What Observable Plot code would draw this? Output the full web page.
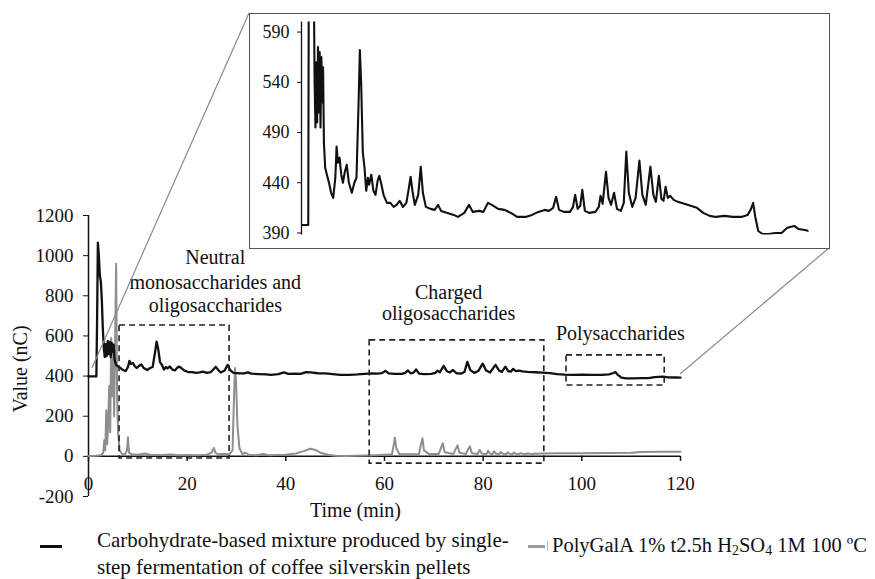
<!DOCTYPE html>
<html><head><meta charset="utf-8">
<script src="https://cdn.jsdelivr.net/npm/d3@7"></script>
<script src="https://cdn.jsdelivr.net/npm/@observablehq/plot@0.6"></script>
<style>
html,body{margin:0;padding:0;background:#fff;}
#wrap{position:relative;width:875px;height:579px;font-family:"Liberation Serif","Times New Roman",serif;color:#111;overflow:hidden;}
#main{position:absolute;left:0;top:0;}
#conn{position:absolute;left:0;top:0;pointer-events:none;}
#inset{position:absolute;left:249px;top:13px;width:581px;height:236px;border:1.5px solid #555;box-sizing:border-box;background:#fff;}
.lg{position:absolute;font-size:21px;line-height:27px;white-space:nowrap;}
.sw{position:absolute;height:3px;}
sub{font-size:14px;vertical-align:-3px;line-height:0;}
</style></head><body>
<div id="wrap">
  <div id="main"></div>
  <svg id="conn" width="875" height="579"></svg>
  <div id="inset"></div>
  <div class="sw" style="left:40px;top:545px;width:22px;background:#111;"></div>
  <div class="lg" style="left:97px;top:527px;">Carbohydrate-based mixture produced by single-<br>step fermentation of coffee silverskin pellets</div>
  <div class="sw" style="left:528px;top:545px;width:17px;background:#9a9a9a;"></div>
  <div style="position:absolute;left:547px;top:541px;width:1px;height:10px;background:#bbb;"></div>
  <div class="lg" style="left:552px;top:532px;font-size:20.5px;">PolyGalA 1% t2.5h H<sub>2</sub>SO<sub>4</sub> 1M 100 ºC</div>
</div>
<script>
// ---------- data ----------
const seriesNames = ["Carbohydrate-based mixture produced by single-step fermentation of coffee silverskin pellets", "PolyGalA 1% t2.5h H2SO4 1M 100 ºC"];

const blackTime = [0,0.8,1.6,1.75,1.9,2.1,2.3,2.5,2.7,2.9,3.1,3.3,3.5,3.7,3.9,4.1,4.3,4.5,4.7,4.9,5.1,5.3,5.6,6.0,6.5,7.0,7.5,8.0,8.3,8.6,9.0,9.4,9.8,10.2,10.7,11.2,11.9,12.5,13.0,13.5,13.8,14.1,14.5,14.9,15.3,15.7,16.0,16.5,17.0,17.5,18.0,18.4,18.8,19.4,20.2,21.0,21.8,22.5,23.2,24.0,24.8,25.4,25.8,26.3,26.8,27.6,28.2,28.7,29.4,30.5,31.5,32.3,33.0,34.5,36.0,37.0,38.5,39.6,40.5,42.0,43.0,44.1,45.0,46.5,48.0,49.5,51.0,53.0,54.5,56.0,57.5,58.5,59.5,60.2,60.9,62.0,63.5,64.2,64.7,65.3,65.9,66.4,67.0,68.0,69.5,70.3,70.7,71.2,72.0,72.6,73.2,73.9,74.6,75.5,76.2,76.8,77.4,78.2,79.0,79.9,80.6,81.4,82.5,83.2,83.8,84.5,85.1,85.6,86.1,86.6,87.2,88.0,89.0,90.5,92.0,93.5,95.0,96.5,98.0,100.0,102.0,104.0,105.5,106.3,106.8,107.3,108.0,109.0,110.5,112.0,113.5,114.8,115.5,116.5,117.5,119.0,120.0];
const blackValue = [398,398,398,700,1065,1000,900,870,780,640,540,495,560,500,575,510,570,495,565,520,555,480,455,448,440,430,425,445,476,460,465,448,440,450,458,440,430,440,445,520,572,540,470,455,432,445,438,448,432,428,442,447,440,428,420,420,416,418,422,416,420,435,446,430,418,428,456,430,416,414,413,418,412,410,408,406,410,418,411,412,411,420,418,414,413,410,406,406,408,411,413,412,415,426,413,411,411,416,428,414,417,433,412,410,411,416,427,419,451,425,418,430,414,412,420,471,430,416,425,462,428,418,456,428,421,447,424,422,436,425,427,423,421,419,417,415,410,407,406,407,406,406,408,414,420,406,392,389,389,390,390,395,396,397,394,393,392];

const grayTime = [0,1.5,2.5,3.0,3.2,3.4,3.6,3.8,4.0,4.2,4.4,4.6,4.8,5.0,5.2,5.4,5.6,5.8,6.0,6.3,6.8,7.4,7.8,8.0,8.2,8.8,10,11.5,12.5,15,17,18,20,22,24,25.0,25.4,25.8,26.5,27.5,28.5,29.2,29.5,29.7,29.9,30.2,30.6,31.2,31.8,32.5,34,35.5,36.5,38,40,42,43.5,45.0,46.0,47.0,48.5,50,52,54,56,58,60,61.5,61.9,62.1,62.4,63,65,67.0,67.4,67.7,68.0,69,71.0,71.5,71.8,72.2,74.0,74.5,74.8,75.2,76.5,77.0,77.3,77.7,78.9,79.3,79.7,80.7,81.0,81.4,81.9,82.2,82.6,83.3,83.6,84.0,84.7,85.0,85.4,85.9,86.2,86.6,87.3,87.6,88.0,88.7,89.0,89.4,90.0,90.3,91,92,95,100,105,110,112,116,120];
const grayValue = [2,3,5,20,80,30,230,60,180,350,120,590,300,560,200,575,960,300,120,30,12,10,30,95,20,10,8,14,8,7,9,6,7,6,8,20,42,15,10,12,10,30,300,440,380,150,40,12,18,8,6,12,6,7,8,14,25,38,32,18,8,3,2,3,4,6,8,10,60,93,40,12,10,12,60,90,30,12,12,45,65,20,12,40,55,18,12,38,50,16,12,32,14,12,28,13,12,25,13,12,22,13,12,20,13,12,18,13,12,16,13,12,15,13,12,14,13,14,15,16,17,18,22,23,23];

const xTicks = [0,20,40,60,80,100,120];
const yTicks = [-200,0,200,400,600,800,1000,1200];
const insetTicks = [390,440,490,540,590];

// annotation regions: [label lines], box extents in time/value
const regionNames = ["Neutral|monosaccharides and|oligosaccharides", "Charged|oligosaccharides", "Polysaccharides"];
const boxT1 = [6.3, 57.0, 96.9];
const boxT2 = [28.6, 92.4, 116.8];
const boxV1 = [-11, -36, 353];
const boxV2 = [652, 578, 503];
const labelT = [25.7, 73.0, 107.8];
const labelV = [[991, 866, 752], [817, 712], [612]];

// zoom connector anchors on the main curve
const zoomStart = {t: 0.8, v: 438};
const zoomEnd = {t: 120, v: 408};

// ---------- build ----------
const black = blackTime.map((t, i) => ({t, v: blackValue[i]}));
const gray = grayTime.map((t, i) => ({t, v: grayValue[i]}));
const boxes = boxT1.map((t1, i) => ({t1, t2: boxT2[i], v1: boxV1[i], v2: boxV2[i]}));
const labels = [];
regionNames.forEach((n, i) => n.split("|").forEach((line, j) => labels.push({t: labelT[i], v: labelV[i][j], text: line})));

const font = '"Liberation Serif","Times New Roman",serif';

const main = Plot.plot({
  width: 875, height: 530,
  marginLeft: 88, marginRight: 195, marginTop: 215, marginBottom: 34,
  style: {fontFamily: font, fontSize: "19px", color: "#111", background: "transparent", overflow: "visible"},
  x: {domain: [0, 120], axis: null},
  y: {domain: [-200, 1200], ticks: yTicks, tickSize: 5, tickPadding: 10, tickFormat: d => String(d), label: null},
  marks: [
    Plot.ruleX([0], {y1: -200, y2: 1200, stroke: "#111", strokeWidth: 1.5}),
    Plot.ruleY([0], {stroke: "#111", strokeWidth: 1.5}),
    Plot.ruleX(xTicks, {x: d => d, y1: 0, y2: -25, stroke: "#111", strokeWidth: 1.5}),
    Plot.text(xTicks, {x: d => d, y: 0, dy: 28, text: d => String(d), fontSize: 19}),
    Plot.line(gray, {x: "t", y: "v", stroke: "#8e8e8e", strokeWidth: 2}),
    Plot.line(black, {x: "t", y: "v", stroke: "#111", strokeWidth: 2.3}),
    Plot.rect(boxes, {x1: "t1", x2: "t2", y1: "v1", y2: "v2", fill: "none", stroke: "#222", strokeWidth: 1.6, strokeDasharray: "6,4"}),
    Plot.text(labels, {x: "t", y: "v", text: "text", fontSize: 20}),
    Plot.text(["Time (min)"], {frameAnchor: "bottom", textAnchor: "middle", dx: -29, dy: 20, text: d => d, fontSize: 20}),
    Plot.text(["Value (nC)"], {frameAnchor: "left", textAnchor: "middle", rotate: -90, dx: -68, dy: 13, text: d => d, fontSize: 20})
  ]
});
document.getElementById("main").appendChild(main);

const inset = Plot.plot({
  width: 578, height: 233,
  marginLeft: 51, marginRight: 19.5, marginTop: 7.5, marginBottom: 12.5,
  style: {fontFamily: font, fontSize: "18px", color: "#111", background: "transparent"},
  x: {domain: [0, 120], axis: null},
  y: {domain: [388, 600], ticks: insetTicks, tickSize: 4, tickPadding: 8, tickFormat: d => String(d), label: null},
  marks: [
    Plot.ruleX([0], {y1: 388, y2: 600, stroke: "#111", strokeWidth: 1.3}),
    Plot.line(black, {x: "t", y: "v", stroke: "#111", strokeWidth: 2.1, clip: true})
  ]
});
document.getElementById("inset").appendChild(inset);

// connectors from the main curve to the inset frame corners
const sx = main.scale("x"), sy = main.scale("y");
const insetBox = document.getElementById("inset");
const L = insetBox.offsetLeft, T = insetBox.offsetTop, R = L + insetBox.offsetWidth, B = T + insetBox.offsetHeight;
const conn = d3.select("#conn");
const segs = [
  [[sx.apply(zoomStart.t), sy.apply(zoomStart.v)], [L, T]],
  [[sx.apply(zoomEnd.t), sy.apply(zoomEnd.v)], [R - 1, B - 1]]
];
conn.selectAll("line").data(segs).join("line")
  .attr("x1", d => d[0][0]).attr("y1", d => d[0][1])
  .attr("x2", d => d[1][0]).attr("y2", d => d[1][1])
  .attr("stroke", "#8a8a8a").attr("stroke-width", 1.2);
</script>
</body></html>
